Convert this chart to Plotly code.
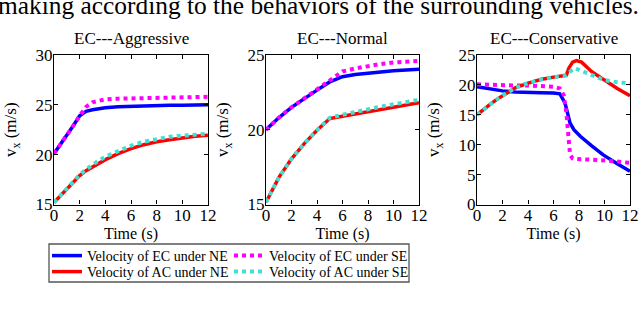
import plotly.graph_objects as go

W, H = 640, 314

# ---------------- data ----------------
panel_titles = ["EC---Aggressive", "EC---Normal", "EC---Conservative"]
series_names = ["Velocity of EC under NE", "Velocity of EC under SE",
                "Velocity of AC under NE", "Velocity of AC under SE"]
x_ticks = [0, 2, 4, 6, 8, 10, 12]
y_ticks_aggr = [15, 20, 25, 30]
y_ticks_norm = [15, 20, 25]
y_ticks_cons = [0, 5, 10, 15, 20, 25]

# Aggressive
t_aggr = [0, 0.5, 1, 1.5, 2, 2.5, 3, 4, 5, 6, 7, 8, 9, 10, 11, 12]
aggr_ec_ne = [20.1, 21.0, 22.0, 22.9, 23.9, 24.35, 24.5, 24.7, 24.8, 24.85, 24.9, 24.9, 24.95, 24.95, 25.0, 25.0]
aggr_ec_se = [20.1, 21.0, 22.0, 22.9, 23.9, 24.8, 25.25, 25.55, 25.62, 25.66, 25.7, 25.7, 25.73, 25.75, 25.78, 25.8]
aggr_ac_ne = [15.2, 15.9, 16.6, 17.3, 17.9, 18.4, 18.8, 19.5, 20.1, 20.6, 21.0, 21.3, 21.5, 21.7, 21.85, 21.95]
aggr_ac_se = [15.2, 15.9, 16.6, 17.3, 18.0, 18.5, 19.0, 19.8, 20.4, 20.9, 21.3, 21.6, 21.8, 21.9, 22.0, 22.1]

# Normal
t_norm = [0, 1, 2, 3, 4, 5, 6, 7, 8, 9, 10, 11, 12]
norm_ec_ne = [20.0, 20.8, 21.5, 22.1, 22.65, 23.2, 23.55, 23.7, 23.8, 23.9, 23.95, 24.0, 24.05]
norm_ec_se = [20.0, 20.8, 21.5, 22.1, 22.65, 23.25, 23.9, 24.1, 24.26, 24.4, 24.5, 24.55, 24.6]
norm_ac_ne = [15.15, 16.8, 18.06, 19.07, 19.97, 20.75, 20.9, 21.05, 21.2, 21.35, 21.5, 21.65, 21.8]
norm_ac_se = [15.15, 16.8, 18.06, 19.07, 19.97, 20.8, 21.0, 21.2, 21.35, 21.55, 21.7, 21.85, 22.0]

# Conservative
t_cons_ec_ne = [0, 1, 2, 3, 4, 5, 6, 6.5, 6.9, 7.1, 7.3, 7.6, 8.1, 9, 9.9, 11, 12]
cons_ec_ne = [19.7, 19.3, 19.0, 18.8, 18.7, 18.7, 18.65, 18.5, 17.0, 15.2, 13.6, 12.5, 11.4, 9.8, 8.3, 6.8, 5.55]
t_cons_ec_se = [0, 1, 2, 3, 4, 5, 6, 6.5, 6.8, 7.0, 7.15, 7.3, 7.5, 7.8, 9, 10, 11, 12]
cons_ec_se = [20.1, 20.0, 19.9, 19.9, 19.9, 19.8, 19.7, 19.4, 18.3, 15.5, 11.0, 8.3, 7.7, 7.6, 7.5, 7.4, 7.2, 6.95]
t_cons_ac_ne = [0, 0.5, 1, 1.5, 2, 2.5, 3, 4, 5, 6, 7, 7.2, 7.5, 7.8, 8.2, 9, 10, 11, 12]
cons_ac_ne = [15.0, 15.9, 16.7, 17.5, 18.2, 18.9, 19.5, 20.3, 20.9, 21.3, 21.6, 22.8, 23.8, 24.05, 23.8, 22.2, 20.8, 19.4, 18.2]
t_cons_ac_se = [0, 0.5, 1, 1.5, 2, 2.5, 3, 4, 5, 6, 7, 7.4, 7.7, 8, 9, 10, 11, 12]
cons_ac_se = [15.0, 15.9, 16.7, 17.5, 18.2, 18.9, 19.5, 20.3, 20.9, 21.3, 21.6, 22.4, 22.8, 22.5, 21.7, 20.8, 20.45, 20.25]

header_text = "making according to the behaviors of the surrounding vehicles."

# ---------------- style ----------------
FONT = "Liberation Serif, Times New Roman, serif"
colors = ["#0000ff", "#ff00ff", "#ff0000", "#40e0d0"]
dashes = ["solid", "dot", "solid", "dot"]
widths = [3.5, 4, 3.5, 4]
legend_of = ["legend", "legend", "legend2", "legend2"]

panels = [
    ([t_aggr] * 4, [aggr_ec_ne, aggr_ec_se, aggr_ac_ne, aggr_ac_se], [15, 30], y_ticks_aggr),
    ([t_norm] * 4, [norm_ec_ne, norm_ec_se, norm_ac_ne, norm_ac_se], [15, 25], y_ticks_norm),
    ([t_cons_ec_ne, t_cons_ec_se, t_cons_ac_ne, t_cons_ac_se],
     [cons_ec_ne, cons_ec_se, cons_ac_ne, cons_ac_se], [0, 25], y_ticks_cons),
]

# pixel boxes of the plot areas
px_boxes = [(54, 208), (266, 419), (477, 630)]
y_top, y_bot = 55, 204.5

fig = go.Figure()
layout = dict(
    width=W, height=H,
    margin=dict(l=0, r=0, t=0, b=0, autoexpand=False),
    paper_bgcolor="white", plot_bgcolor="white",
    font=dict(family=FONT, color="black", size=16),
    annotations=[], shapes=[],
)

for i, (ts, vs, yr, yt) in enumerate(panels):
    xa = "x" if i == 0 else f"x{i+1}"
    ya = "y" if i == 0 else f"y{i+1}"
    for k in [0, 1, 2, 3]:
        fig.add_trace(go.Scatter(
            x=ts[k], y=vs[k], mode="lines", name=series_names[k],
            line=dict(color=colors[k], dash=dashes[k], width=widths[k]),
            xaxis=xa, yaxis=ya, showlegend=(i == 0), legend=legend_of[k],
        ))
    x0, x1 = px_boxes[i]
    axis_common = dict(showline=True, linecolor="black", linewidth=1.3, mirror="ticks",
                       ticks="inside", ticklen=4, tickcolor="black", showgrid=False,
                       zeroline=False, automargin=False,
                       tickfont=dict(family=FONT, size=17, color="black"))
    layout["xaxis" if i == 0 else f"xaxis{i+1}"] = dict(
        domain=[x0 / W, x1 / W], range=[0, 12], tickvals=x_ticks, anchor=ya,
        ticklabelstandoff=-5,
        title=dict(text="Time (s)", standoff=0, font=dict(family=FONT, size=16)),
        **axis_common)
    layout["yaxis" if i == 0 else f"yaxis{i+1}"] = dict(
        domain=[1 - y_bot / H, 1 - y_top / H], range=yr, tickvals=yt, anchor=xa,
        ticklabelstandoff=-3,
        title=dict(text="v<sub>x</sub> (m/s)", standoff=14, font=dict(family=FONT, size=17)),
        **axis_common)
    layout["annotations"].append(dict(
        text=panel_titles[i], x=(x0 + x1) / 2 / W, y=1 - 39 / H, xref="paper", yref="paper",
        showarrow=False, xanchor="center", yanchor="middle",
        font=dict(family=FONT, size=17, color="black")))

layout["annotations"].append(dict(
    text=header_text, x=-4 / W, y=1 - 5 / H, xref="paper", yref="paper",
    showarrow=False, xanchor="left", yanchor="middle",
    font=dict(family=FONT, size=25.4, color="black")))

# legend frame
layout["shapes"].append(dict(type="rect", xref="paper", yref="paper",
                             x0=49 / W, x1=409 / W, y0=1 - 282 / H, y1=1 - 244 / H,
                             line=dict(color="#555555", width=1.3), fillcolor="white",
                             layer="below"))
leg_common = dict(orientation="h", xanchor="left", yanchor="middle", entrywidth=137,
                  entrywidthmode="pixels", bgcolor="rgba(0,0,0,0)", borderwidth=0,
                  font=dict(family=FONT, size=14, color="black"), itemwidth=30,
                  tracegroupgap=0)
layout["legend"] = dict(x=47 / W, y=1 - 256 / H, **leg_common)
layout["legend2"] = dict(x=47 / W, y=1 - 272 / H, **leg_common)

fig.update_layout(**layout)
fig.write_html("out.html", config={"displayModeBar": False},
               post_script="document.body.style.margin='0';document.body.style.overflow='hidden';")
